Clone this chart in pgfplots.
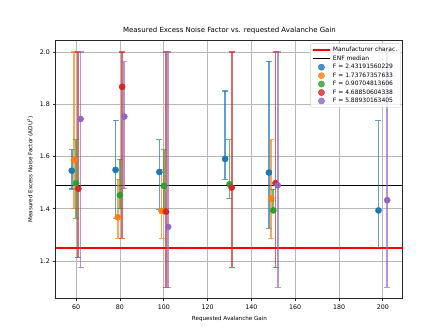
\documentclass[border=0pt]{standalone}
\usepackage{fontspec}
\setmainfont{DejaVu Sans}
\usepackage{pgfplots}
\usepackage{pgfplotstable}
\pgfplotsset{compat=1.18}

\definecolor{tabblue}{HTML}{1F77B4}
\definecolor{taborange}{HTML}{FF7F0E}
\definecolor{tabgreen}{HTML}{2CA02C}
\definecolor{tabred}{HTML}{D62728}
\definecolor{tabpurple}{HTML}{9467BD}

% x  y  lo  hi  (lo/hi = ends of the error bar)
\pgfplotstableread{
x   y     lo    hi
58  1.546 1.476 1.627
78  1.549 1.364 1.739
98  1.541 1.398 1.664
128 1.591 1.513 1.851
148 1.539 1.325 1.964
198 1.394 1.251 1.738
}\fblue
\pgfplotstableread{
x   y     lo    hi
59  1.587 1.401 2.000
79  1.368 1.288 1.513
99  1.392 1.288 1.552
149 1.439 1.287 1.664
}\forange
\pgfplotstableread{
x   y     lo    hi
60  1.498 1.364 1.664
80  1.452 1.401 1.589
100 1.488 1.400 1.626
130 1.494 1.439 1.664
150 1.394 1.390 1.475
}\fgreen
\pgfplotstableread{
x   y     lo    hi
61  1.477 1.213 2.000
81  1.867 1.288 2.000
101 1.389 1.100 2.000
131 1.481 1.176 2.000
151 1.498 1.175 2.000
}\fred
\pgfplotstableread{
x   y     lo    hi
62  1.744 1.175 2.000
82  1.753 1.477 1.963
102 1.331 1.100 2.000
152 1.490 1.100 2.000
202 1.433 1.099 2.000
}\fpurple

\pgfplotsset{
  enfseries/.style={
    only marks, mark=*, mark size=3.1pt,
    color=#1, mark options={fill=#1, draw=#1},
    error bars/.cd, y dir=both, y explicit,
    error bar style={draw=#1, color=#1, line width=1.7pt, opacity=0.7},
    error mark=-,
    error mark options={draw=#1, rotate=90, mark size=3pt, line width=1.2pt, opacity=0.7},
  },
}

\begin{document}
\begin{tikzpicture}
\path[use as bounding box] (-56pt,-37pt) rectangle (392pt,299pt);
\begin{axis}[
    at={(0,0)}, anchor=south west,
    scale only axis,
    width=347pt, height=258.7pt,
    xmin=50.8, xmax=209.2, ymin=1.055, ymax=2.045,
    xtick={60,80,100,120,140,160,180,200},
    ytick={1.2,1.4,1.6,1.8,2.0},
    grid=major,
    grid style={black!28, line width=0.9pt},
    axis line style={line width=1pt, black!85},
    tick align=outside, tick pos=left, major tick length=2.5pt,
    tick style={black!85, line width=0.7pt},
    ticklabel style={font=\fontsize{6.3}{7}\selectfont},
    /pgf/number format/assume math mode=true,
    yticklabel style={/pgf/number format/.cd, fixed, fixed zerofill, precision=1},
    title={Measured Excess Noise Factor vs. requested Avalanche Gain},
    title style={font=\fontsize{7}{8}\selectfont, yshift=-3pt},
    xlabel={Requested Avalanche Gain},
    xlabel style={font=\fontsize{5.6}{7}\selectfont},
    ylabel={Measured Excess Noise Factor (ADU\textsuperscript{2})},
    ylabel style={font=\fontsize{5.6}{7}\selectfont},
    legend cell align=left,
    legend style={at={(0.994,0.988)}, anchor=north east,
        draw=black!20, rounded corners=2pt, fill=white, fill opacity=0.8,
        text opacity=1, font=\fontsize{6}{7}\selectfont, row sep=-1.5pt,
        inner sep=1.5pt},
]
\addplot[red, line width=2pt] coordinates {(40,1.25) (220,1.25)};
\addlegendentry{Manufacturer charac.}
\addplot[black, line width=1.6pt] coordinates {(40,1.489) (220,1.489)};
\addlegendentry{ENF median}

\addplot[enfseries=tabblue] table[
    y error plus expr=\thisrow{hi}-\thisrow{y},
    y error minus expr=\thisrow{y}-\thisrow{lo}] {\fblue};
\addlegendentry{F = 2.43191560229}
\addplot[enfseries=taborange] table[
    y error plus expr=\thisrow{hi}-\thisrow{y},
    y error minus expr=\thisrow{y}-\thisrow{lo}] {\forange};
\addlegendentry{F = 1.73767357633}
\addplot[enfseries=tabgreen] table[
    y error plus expr=\thisrow{hi}-\thisrow{y},
    y error minus expr=\thisrow{y}-\thisrow{lo}] {\fgreen};
\addlegendentry{F = 0.90704813606}
\addplot[enfseries=tabred] table[
    y error plus expr=\thisrow{hi}-\thisrow{y},
    y error minus expr=\thisrow{y}-\thisrow{lo}] {\fred};
\addlegendentry{F = 4.68850604338}
\addplot[enfseries=tabpurple] table[
    y error plus expr=\thisrow{hi}-\thisrow{y},
    y error minus expr=\thisrow{y}-\thisrow{lo}] {\fpurple};
\addlegendentry{F = 5.88930163405}
\end{axis}
\end{tikzpicture}
\end{document}
